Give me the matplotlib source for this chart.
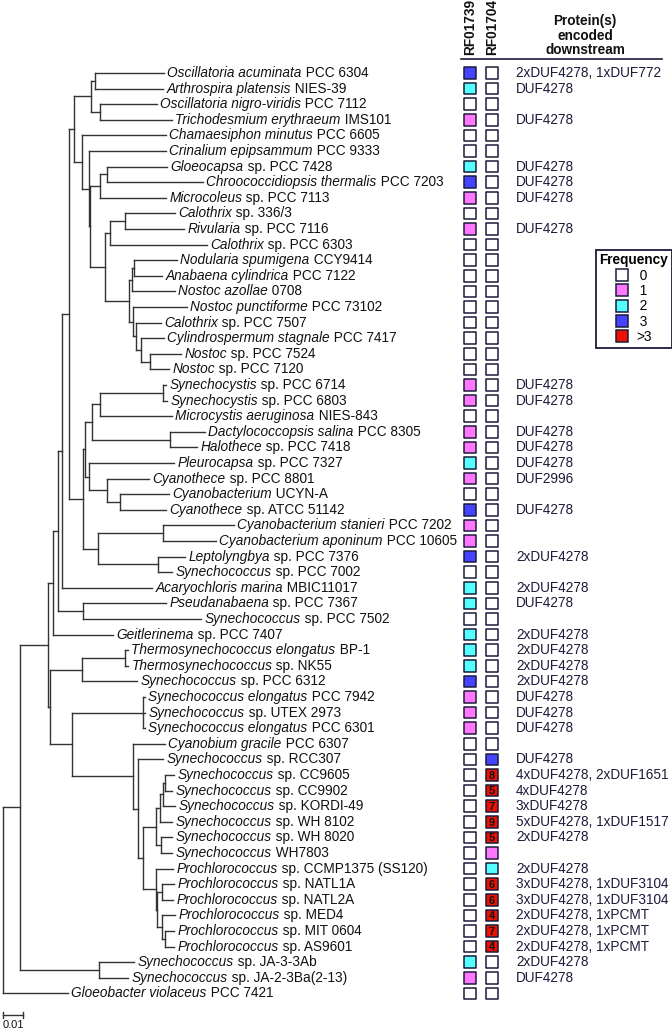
import numpy as np
import matplotlib.pyplot as plt
from matplotlib.collections import LineCollection
from matplotlib.lines import Line2D

plt.rcParams['font.family'] = ['Liberation Sans', 'DejaVu Sans']

# ============================
# 1. Data
# ============================
# taxon names, top to bottom: italic part + roman part
GENUS = [
    "Oscillatoria acuminata", "Arthrospira platensis", "Oscillatoria nigro-viridis",
    "Trichodesmium erythraeum", "Chamaesiphon minutus", "Crinalium epipsammum",
    "Gloeocapsa", "Chroococcidiopsis thermalis", "Microcoleus", "Calothrix",
    "Rivularia", "Calothrix", "Nodularia spumigena", "Anabaena cylindrica",
    "Nostoc azollae", "Nostoc punctiforme", "Calothrix", "Cylindrospermum stagnale",
    "Nostoc", "Nostoc", "Synechocystis", "Synechocystis", "Microcystis aeruginosa",
    "Dactylococcopsis salina", "Halothece", "Pleurocapsa", "Cyanothece",
    "Cyanobacterium", "Cyanothece", "Cyanobacterium stanieri", "Cyanobacterium aponinum",
    "Leptolyngbya", "Synechococcus", "Acaryochloris marina", "Pseudanabaena",
    "Synechococcus", "Geitlerinema", "Thermosynechococcus elongatus",
    "Thermosynechococcus", "Synechococcus", "Synechococcus elongatus", "Synechococcus",
    "Synechococcus elongatus", "Cyanobium gracile", "Synechococcus", "Synechococcus",
    "Synechococcus", "Synechococcus", "Synechococcus", "Synechococcus", "Synechococcus",
    "Prochlorococcus", "Prochlorococcus", "Prochlorococcus", "Prochlorococcus",
    "Prochlorococcus", "Prochlorococcus", "Synechococcus", "Synechococcus",
    "Gloeobacter violaceus",
]
STRAIN = [
    " PCC 6304", " NIES-39", " PCC 7112", " IMS101", " PCC 6605", " PCC 9333",
    " sp. PCC 7428", " PCC 7203", " sp. PCC 7113", " sp. 336/3", " sp. PCC 7116",
    " sp. PCC 6303", " CCY9414", " PCC 7122", " 0708", " PCC 73102", " sp. PCC 7507",
    " PCC 7417", " sp. PCC 7524", " sp. PCC 7120", " sp. PCC 6714", " sp. PCC 6803",
    " NIES-843", " PCC 8305", " sp. PCC 7418", " sp. PCC 7327", " sp. PCC 8801",
    " UCYN-A", " sp. ATCC 51142", " PCC 7202", " PCC 10605", " sp. PCC 7376",
    " sp. PCC 7002", " MBIC11017", " sp. PCC 7367", " sp. PCC 7502", " sp. PCC 7407",
    " BP-1", " sp. NK55", " sp. PCC 6312", " PCC 7942", " sp. UTEX 2973", " PCC 6301",
    " PCC 6307", " sp. RCC307", " sp. CC9605", " sp. CC9902", " sp. KORDI-49",
    " sp. WH 8102", " sp. WH 8020", " WH7803", " sp. CCMP1375 (SS120)", " sp. NATL1A",
    " sp. NATL2A", " sp. MED4", " sp. MIT 0604", " sp. AS9601", " sp. JA-3-3Ab",
    " sp. JA-2-3Ba(2-13)", " PCC 7421",
]

COLUMNS = ["RF01739", "RF01704"]
RF01739 = [3, 2, 0, 1, 0, 0, 2, 3, 1, 0,
           1, 0, 0, 0, 0, 0, 0, 0, 0, 0,
           1, 1, 0, 1, 1, 2, 1, 0, 3, 1,
           1, 3, 0, 2, 2, 0, 2, 2, 2, 3,
           1, 1, 1, 0, 0, 0, 0, 0, 0, 0,
           0, 0, 0, 0, 0, 0, 0, 2, 1, 0]
RF01704 = [0, 0, 0, 0, 0, 0, 0, 0, 0, 0,
           0, 0, 0, 0, 0, 0, 0, 0, 0, 0,
           0, 0, 0, 0, 0, 0, 0, 0, 0, 0,
           0, 0, 0, 0, 0, 0, 0, 0, 0, 0,
           0, 0, 0, 0, 3, 8, 5, 7, 9, 5,
           1, 2, 6, 6, 4, 7, 4, 0, 0, 0]

DOWNSTREAM = [
    "2xDUF4278, 1xDUF772", "DUF4278", "", "DUF4278", "", "", "DUF4278", "DUF4278",
    "DUF4278", "", "DUF4278", "", "", "", "", "", "", "", "", "",
    "DUF4278", "DUF4278", "", "DUF4278", "DUF4278", "DUF4278", "DUF2996", "",
    "DUF4278", "", "", "2xDUF4278", "", "2xDUF4278", "DUF4278", "", "2xDUF4278",
    "2xDUF4278", "2xDUF4278", "2xDUF4278", "DUF4278", "DUF4278", "DUF4278", "",
    "DUF4278", "4xDUF4278, 2xDUF1651", "4xDUF4278", "3xDUF4278",
    "5xDUF4278, 1xDUF1517", "2xDUF4278", "", "2xDUF4278", "3xDUF4278, 1xDUF3104",
    "3xDUF4278, 1xDUF3104", "2xDUF4278, 1xPCMT", "2xDUF4278, 1xPCMT",
    "2xDUF4278, 1xPCMT", "2xDUF4278", "DUF4278", "",
]

FREQ_LABELS = [" 0", " 1", " 2", " 3", ">3"]
FREQ_COLORS = ["#ffffff", "#ff77ff", "#55ffff", "#4444ff", "#ee1100"]

# tree; leaf names are row indices into the lists above
TREE_NEWICK = """
(
 (
  (
   (
    (
     (
      (
       (
        ((0:0.0345,1:0.034):0.002,(2:0.0285,3:0.036):0.0045):0.0085,
        (4:0.042,
         (5:0.0385,
          (((6:0.03,7:0.048):0.0035,8:0.033):0.005,
           (((9:0.025,10:0.0295):0.0075,11:0.0485):0.0025,
            (((12:0.0215,13:0.014):0.001,14:0.0215):0.0015,
             (15:0.027,(16:0.0125,(17:0.0115,(18:0.0155,19:0.0095):0.0045):0.0025):0.0015):0.002
            ):0.012
           ):0.0075
          ):0.0005
         ):0.0035
        ):0.004
       ):0.0025,
       (
        ((((20:0.0015,21:0.002):0.0315,22:0.036):0.004,(23:0.0175,24:0.0135):0.039):0.0035,
         (25:0.0425,(26:0.021,(27:0.0245,28:0.023):0.0065):0.009):0.002
        ):0.001,
        ((29:0.0355,30:0.0265):0.0325,(31:0.0135,32:0.007):0.03):0.0075
       ):0.007
      ):0.0035,
      33:0.045
     ):0.002,
     (34:0.0415,35:0.059):0.0125
    ):0.0025,
    36:0.03
   ):0.0025,
   (
    ((37:0.0015,38:0.0015):0.0215,39:0.0275):0.016,
    ((40:0.001,41:0.001,42:0.001):0.0355,
     (43:0.016,
      (44:0.0125,
       (
        ((((45:0.0045,46:0.0035):0.001,47:0.006):0.0015,48:0.006):0.002,(49:0.0055,50:0.0055):0.0025):0.0065,
        (51:0.0085,((52:0.006,53:0.0055):0.0025,(54:0.0065,(55:0.0045,56:0.0045):0.0015):0.0025):0.0005):0.0065
       ):0.0025
      ):0.0025
     ):0.0305
    ):0.011
   ):0.001
  ):0.014,
  (57:0.0175,58:0.0145):0.0395
 ):0.0085,
 59:0.0325
);
"""
SCALE_LEN = 0.01

# ============================
# 2. Newick parsing + layout
# ============================
def parse_newick(text):
    s = "".join(text.split()).rstrip(";")
    pos = 0

    def node():
        nonlocal pos
        children = []
        if s[pos] == "(":
            pos += 1
            children.append(node())
            while s[pos] == ",":
                pos += 1
                children.append(node())
            pos += 1  # ')'
        start = pos
        while pos < len(s) and s[pos] not in ",():":
            pos += 1
        name = s[start:pos]
        length = 0.0
        if pos < len(s) and s[pos] == ":":
            pos += 1
            start = pos
            while pos < len(s) and s[pos] not in ",()":
                pos += 1
            length = float(s[start:pos])
        return {"name": name, "length": length, "children": children}

    return node()


def layout(nd, x0, leaves, segs):
    """rectangular cladogram: x = distance from root, y = leaf row"""
    nd["x"] = x0 + nd["length"]
    if not nd["children"]:
        nd["y"] = len(leaves)
        leaves.append(nd)
    else:
        for ch in nd["children"]:
            layout(ch, nd["x"], leaves, segs)
        ys = [ch["y"] for ch in nd["children"]]
        nd["y"] = (ys[0] + ys[-1]) / 2
        segs.append([(nd["x"], ys[0]), (nd["x"], ys[-1])])
    segs.append([(x0, nd["y"]), (nd["x"], nd["y"])])


tree = parse_newick(TREE_NEWICK)
leaves, segs = [], []
layout(tree, 0.0, leaves, segs)
n = len(leaves)

# ============================
# 3. Figure
# ============================
W, H = 672, 1032
ROW0, ROW_H = 73, 15.6        # px of first row, px per row
PX_PER_UNIT = 2000            # tree scale: 0.01 -> 20 px
FS = 9.8
INK = "#111111"
NAVY = "#1b1b3a"
LINE = "#333333"

fig = plt.figure(figsize=(W / 100, H / 100), dpi=100)
ax = fig.add_axes([0, 0, 1, 1])
ax.set_xlim(-3 / PX_PER_UNIT, (W - 3) / PX_PER_UNIT)
ax.set_ylim((H - ROW0) / ROW_H, -ROW0 / ROW_H)
ax.axis("off")

ax.add_collection(LineCollection(segs, colors=LINE, linewidths=1.0, capstyle="projecting"))

for lf in leaves:
    i = int(lf["name"])
    t = ax.annotate(GENUS[i], xy=(lf["x"], lf["y"]), xytext=(2.5, 0),
                    textcoords="offset points", ha="left", va="center",
                    style="italic", fontsize=FS, color=INK)
    ax.annotate(STRAIN[i], xy=(1, 0), xycoords=t, ha="left", va="bottom",
                fontsize=FS, color=INK)

# scale bar
sb_y = (1015 - ROW0) / ROW_H
ax.plot([0, SCALE_LEN], [sb_y, sb_y], color=LINE, lw=1.0)
for xx in (0, SCALE_LEN):
    ax.plot([xx, xx], [sb_y - 0.22, sb_y + 0.22], color=LINE, lw=1.0)
ax.text(SCALE_LEN / 2, sb_y + 0.35, f"{SCALE_LEN:g}", ha="center", va="top",
        fontsize=8, color=INK)

# ============================
# 4. Frequency matrix + downstream proteins
# ============================
COL_X0, COL_W = 470, 22       # px of first column, px per column
ax_tab = fig.add_axes([455 / W, 0, (W - 455) / W, 1], sharey=ax)
ax_tab.set_xlim((455 - COL_X0) / COL_W, (W - COL_X0) / COL_W)
ax_tab.axis("off")

rows = np.arange(n)
for j, vals in enumerate([RF01739, RF01704]):
    cols = [FREQ_COLORS[min(v, 4)] for v in vals]
    ax_tab.scatter(np.full(n, j), rows, s=68, marker="s", c=cols,
                   edgecolors=NAVY, linewidths=1.1, zorder=3)
    for i, v in enumerate(vals):
        if v > 3:
            ax_tab.text(j, i + 0.05, str(v), ha="center", va="center",
                        fontsize=8, fontweight="bold", color=INK, zorder=4)
    ax_tab.text(j, -1.15, COLUMNS[j], rotation=90, ha="center", va="bottom",
                fontsize=FS, fontweight="bold", color=INK)

txt_x = (516 - COL_X0) / COL_W
for i, s in enumerate(DOWNSTREAM):
    if s:
        ax_tab.text(txt_x, i, s, ha="left", va="center", fontsize=FS, color=NAVY)

ax_tab.text((585 - COL_X0) / COL_W, -2.4, "Protein(s)\nencoded\ndownstream",
            ha="center", va="center", fontsize=FS, fontweight="bold",
            linespacing=1.05, color=INK)
ax_tab.plot([(461 - COL_X0) / COL_W, (662 - COL_X0) / COL_W], [-0.9, -0.9],
            color=NAVY, lw=1.2)

handles = [Line2D([], [], ls="none", marker="s", markersize=8.2, mfc=c,
                  mec=NAVY, mew=1.1) for c in FREQ_COLORS]
leg = ax_tab.legend(handles, FREQ_LABELS, title="Frequency", loc="upper left",
                    bbox_to_anchor=(596 / W, 1 - 250 / H), bbox_transform=fig.transFigure,
                    fontsize=FS, title_fontproperties={"weight": "bold", "size": FS},
                    frameon=True, fancybox=False, framealpha=1, edgecolor=NAVY,
                    borderpad=0.25, labelspacing=0.1, handlelength=0.9,
                    handletextpad=0.6, borderaxespad=0)
leg.get_frame().set_linewidth(1.3)

fig.savefig("out.png", dpi=100)
